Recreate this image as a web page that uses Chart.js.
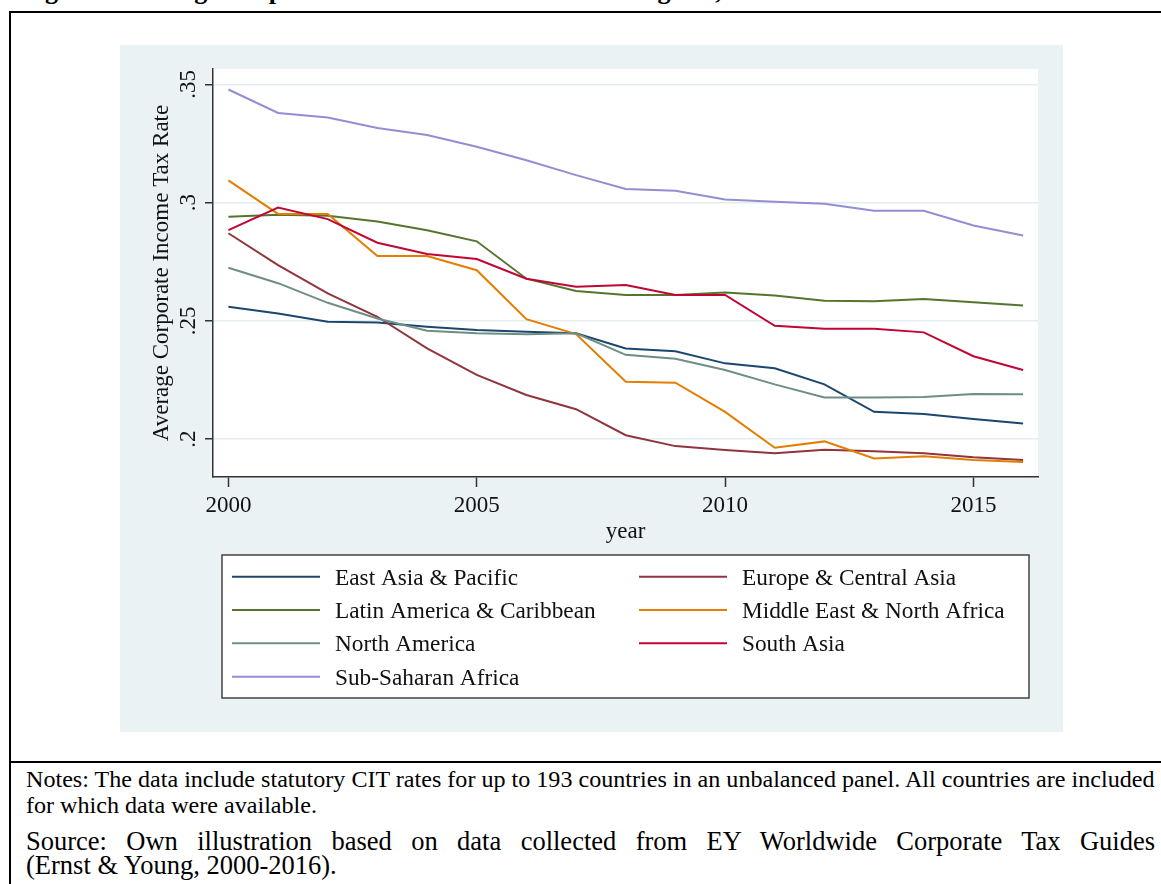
<!DOCTYPE html>
<html>
<head>
<meta charset="utf-8">
<title>Average Corporate Income Tax Rate by Region, 2000-2016</title>
<script src="https://cdn.jsdelivr.net/npm/chart.js@4.4.0/dist/chart.umd.min.js"></script>
<style>
  html, body { margin: 0; padding: 0; background: #fff; }
  body {
    width: 1161px; height: 884px; overflow: hidden; position: relative;
    font-family: "Liberation Serif", "Times New Roman", serif; color: #000;
  }
  .frame {
    position: absolute; left: 9px; top: 11px; width: 1200px; height: 900px;
    border-left: 2px solid #000; border-top: 2px solid #000;
  }
  .rule { position: absolute; left: 9px; top: 761px; width: 1200px; border-top: 2px solid #000; }
  .fig-title {
    position: absolute; left: 22px; top: -24px; font-weight: bold;
    font-size: 26px; line-height: 30px; white-space: nowrap;
  }
  #chart-box { position: absolute; left: 120px; top: 45px; width: 943px; height: 687px; }
  .note { position: absolute; left: 26px; width: 1129px; white-space: nowrap; }
  .notes { font-size: 24.1px; line-height: 26px; }
  .source { font-size: 26.5px; line-height: 23px; }
  .justify { white-space: normal; text-align: justify; text-align-last: justify; }
</style>
</head>
<body>
<div class="fig-title">Figure 1: Average Corporate Income Tax Rates across Regions, 2000-2016</div>
<div class="frame"></div>
<div id="chart-box"><canvas id="cit-chart"></canvas></div>
<div class="rule"></div>
<div class="note notes" style="top:766px">Notes: The data include statutory CIT rates for up to 193 countries in an unbalanced panel. All countries are included</div>
<div class="note notes" style="top:792px">for which data were available.</div>
<div class="note source justify" style="top:830px">Source: Own illustration based on data collected from EY Worldwide Corporate Tax Guides</div>
<div class="note source" style="top:854px">(Ernst &amp; Young, 2000-2016).</div>

<script>
// years on the x axis
const years = [2000, 2001, 2002, 2003, 2004, 2005, 2006, 2007, 2008,
               2009, 2010, 2011, 2012, 2013, 2014, 2015, 2016];

// average statutory CIT rate per region
const eastAsiaPacific = [0.2559, 0.2531, 0.2496, 0.2493, 0.2475, 0.2461, 0.2454, 0.2447, 0.2383,
                         0.2371, 0.2320, 0.2299, 0.2231, 0.2115, 0.2106, 0.2085, 0.2066];
const europeCentralAsia = [0.2870, 0.2735, 0.2616, 0.2517, 0.2383, 0.2271, 0.2186, 0.2126, 0.2016,
                           0.1970, 0.1954, 0.1940, 0.1955, 0.1948, 0.1940, 0.1923, 0.1911];
const latinAmericaCaribbean = [0.2940, 0.2948, 0.2944, 0.2920, 0.2883, 0.2836, 0.2678, 0.2626, 0.2609,
                               0.2609, 0.2620, 0.2607, 0.2585, 0.2583, 0.2592, 0.2578, 0.2565];
const middleEastNorthAfrica = [0.3094, 0.2952, 0.2952, 0.2774, 0.2774, 0.2714, 0.2507, 0.2444, 0.2242,
                               0.2238, 0.2115, 0.1963, 0.1990, 0.1918, 0.1927, 0.1911, 0.1903];
const northAmerica = [0.2724, 0.2659, 0.2576, 0.2510, 0.2458, 0.2447, 0.2443, 0.2447, 0.2356,
                      0.2339, 0.2292, 0.2231, 0.2176, 0.2176, 0.2178, 0.2190, 0.2189];
const southAsia = [0.2883, 0.2979, 0.2930, 0.2830, 0.2782, 0.2761, 0.2678, 0.2644, 0.2651,
                   0.2609, 0.2609, 0.2479, 0.2466, 0.2466, 0.2451, 0.2350, 0.2292];
const subSaharanAfrica = [0.3478, 0.3379, 0.3360, 0.3315, 0.3286, 0.3236, 0.3179, 0.3116, 0.3057,
                          0.3050, 0.3013, 0.3003, 0.2995, 0.2965, 0.2965, 0.2903, 0.2861];

const regionNames = ['East Asia & Pacific', 'Europe & Central Asia', 'Latin America & Caribbean',
                     'Middle East & North Africa', 'North America', 'South Asia', 'Sub-Saharan Africa'];
const regionSeries = [eastAsiaPacific, europeCentralAsia, latinAmericaCaribbean,
                      middleEastNorthAfrica, northAmerica, southAsia, subSaharanAfrica];

// axis ticks
const yearTicks = [2000, 2005, 2010, 2015];
const rateTicks = [0.2, 0.25, 0.3, 0.35];
const rateTickLabels = ['.2', '.25', '.3', '.35'];

// stata s2color palette
const lineColors = ['#1a476f', '#90353b', '#55752f', '#e37e00', '#6e8e84', '#c10534', '#938dd2'];
const PANEL_BG = '#eaf2f3';
const GRID = '#e3edef';
const AXIS = '#333';
const TEXT = '#111';
const FONT = '"Liberation Serif", "Times New Roman", serif';

Chart.defaults.font.family = FONT;
Chart.defaults.font.size = 23;
Chart.defaults.color = TEXT;

// legend layout (canvas px)
const LEGEND = { left: 102, top: 510, right: 909, bottom: 653, cols: [112, 519], firstRow: 531.7, rowGap: 33.33 };

function drawRateLabels(chart) {
    const ctx = chart.ctx;
    const y = chart.scales.y;
    ctx.save();
    ctx.font = '23px ' + FONT;
    ctx.fillStyle = TEXT;
    ctx.textAlign = 'center';
    ctx.textBaseline = 'alphabetic';
    rateTicks.forEach((v, i) => {
        ctx.save();
        ctx.translate(y.right - 18, y.getPixelForValue(v));
        ctx.rotate(-Math.PI / 2);
        ctx.fillText(rateTickLabels[i], 0, 0);
        ctx.restore();
    });
    ctx.restore();
}

function drawLegend(chart) {
    const ctx = chart.ctx;
    ctx.save();
    ctx.fillStyle = '#fff';
    ctx.fillRect(LEGEND.left, LEGEND.top, LEGEND.right - LEGEND.left, LEGEND.bottom - LEGEND.top);
    ctx.strokeStyle = '#444';
    ctx.lineWidth = 1.5;
    ctx.strokeRect(LEGEND.left, LEGEND.top, LEGEND.right - LEGEND.left, LEGEND.bottom - LEGEND.top);
    ctx.font = '23.3px ' + FONT;
    ctx.textAlign = 'left';
    ctx.textBaseline = 'alphabetic';
    chart.data.datasets.forEach((ds, i) => {
        const lx = LEGEND.cols[i % 2];
        const ly = LEGEND.firstRow + Math.floor(i / 2) * LEGEND.rowGap;
        ctx.strokeStyle = ds.borderColor;
        ctx.lineWidth = ds.borderWidth;
        ctx.beginPath();
        ctx.moveTo(lx, ly);
        ctx.lineTo(lx + 88, ly);
        ctx.stroke();
        ctx.fillStyle = TEXT;
        ctx.fillText(ds.label, lx + 103, ly + 8);
    });
    ctx.restore();
}

// graph region background, white plot region, custom y labels and legend
const panelPlugin = {
    id: 'panel',
    beforeDraw(chart) {
        const { ctx, chartArea: a, width, height } = chart;
        ctx.save();
        ctx.fillStyle = PANEL_BG;
        ctx.fillRect(0, 0, width, height);
        ctx.fillStyle = '#fff';
        ctx.fillRect(a.left, a.top, a.right - a.left, a.bottom - a.top);
        ctx.restore();
    },
    afterDraw(chart) {
        drawRateLabels(chart);
        drawLegend(chart);
    }
};

const datasets = regionSeries.map((series, i) => ({
    label: regionNames[i],
    data: years.map((yr, j) => ({ x: yr, y: series[j] })),
    borderColor: lineColors[i],
    backgroundColor: lineColors[i],
    borderWidth: 2,
    pointRadius: 0,
    tension: 0,
    fill: false,
    order: regionSeries.length - i
}));

new Chart(document.getElementById('cit-chart'), {
    type: 'line',
    data: { datasets },
    plugins: [panelPlugin],
    options: {
        responsive: true,
        maintainAspectRatio: false,
        animation: false,
        layout: { padding: { top: 24, right: 25, bottom: 0, left: 0 } },
        plugins: { legend: { display: false }, tooltip: { enabled: false } },
        scales: {
            x: {
                type: 'linear',
                min: 1999.69,
                max: 2016.3,
                afterBuildTicks: s => { s.ticks = yearTicks.map(v => ({ value: v })); },
                afterFit: s => { s.height = 255; },
                ticks: { autoSkip: false, maxRotation: 0, padding: 5, callback: v => String(v) },
                grid: { drawOnChartArea: false, drawTicks: true, tickLength: 10, tickColor: AXIS, tickWidth: 1.5 },
                border: { display: true, color: AXIS, width: 1.5 },
                title: { display: true, text: 'year', padding: { top: 0, bottom: 186.5 } }
            },
            y: {
                type: 'linear',
                min: 0.18394,
                max: 0.35647,
                afterBuildTicks: s => { s.ticks = rateTicks.map(v => ({ value: v })); },
                afterFit: s => { s.width = 93; },
                ticks: { display: false },
                grid: { color: GRID, lineWidth: 1.5, drawTicks: true, tickLength: 8, tickColor: AXIS, tickWidth: 1.5 },
                border: { display: true, color: AXIS, width: 1.5 },
                title: { display: true, text: 'Average Corporate Income Tax Rate', padding: { top: 28.4, bottom: 0 } }
            }
        }
    }
});
</script>
</body>
</html>
